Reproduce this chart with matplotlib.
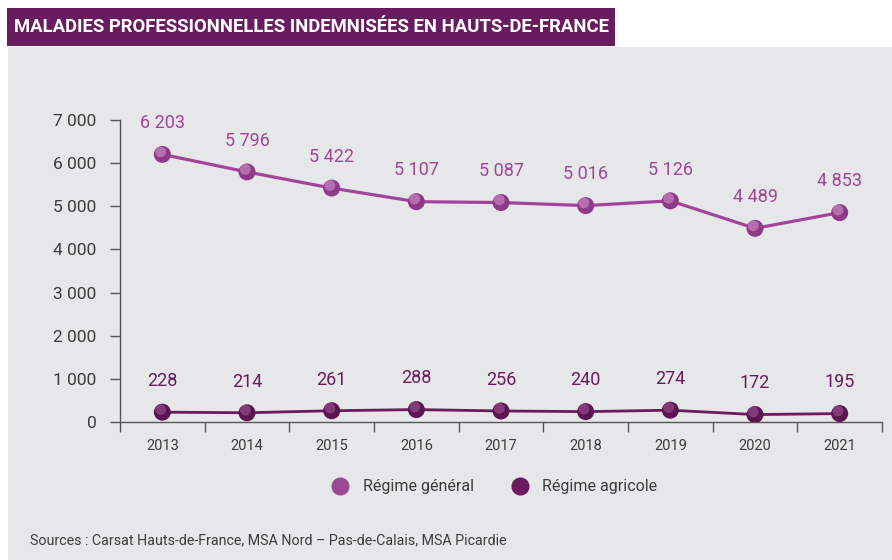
import matplotlib.pyplot as plt
from matplotlib.patches import Rectangle
from matplotlib.lines import Line2D
import numpy as np

years = ['2013', '2014', '2015', '2016', '2017', '2018', '2019', '2020', '2021']
regime_general = [6203, 5796, 5422, 5107, 5087, 5016, 5126, 4489, 4853]
regime_agricole = [228, 214, 261, 288, 256, 240, 274, 172, 195]
y_ticks = [0, 1000, 2000, 3000, 4000, 5000, 6000, 7000]

c_gen = '#a2449a'
c_agr = '#6a1a5e'
c_bg = '#e6e7e9'
c_txt = '#3c3c3c'

plt.rcParams['font.family'] = ['Roboto', 'DejaVu Sans']

W, H = 892, 560
fig = plt.figure(figsize=(W / 100, H / 100), dpi=100)
fig.patch.set_facecolor('white')

# fond gris + bandeau du titre
fig.add_artist(Rectangle((8 / W, 0), 1 - 8 / W, 1 - 47 / H, transform=fig.transFigure,
                         facecolor=c_bg, edgecolor='none', zorder=0))
fig.add_artist(Rectangle((7 / W, 1 - 46 / H), 608 / W, 38 / H, transform=fig.transFigure,
                         facecolor='#691b5f', edgecolor='none', zorder=1))
fig.text(14 / W, 1 - 27 / H, 'MALADIES PROFESSIONNELLES INDEMNISÉES EN HAUTS-DE-FRANCE',
         color='white', fontsize=13.3, fontweight='bold', va='center', ha='left')

ax = fig.add_axes([120 / W, 1 - 422 / H, 762 / W, 302 / H])
ax.set_facecolor('none')
x = np.arange(len(years))


def sphere(ax, xs, ys, base, light):
    # petite bille avec reflet
    ax.scatter(xs, ys, s=150, color=base, zorder=4, edgecolors='none')
    ax.scatter(np.array(xs) - 0.02, np.array(ys) + 60, s=60, color=light, zorder=5,
               edgecolors='none', alpha=0.55)


ax.plot(x, regime_general, color=c_gen, lw=2.3, zorder=3)
sphere(ax, x, regime_general, '#8e3a88', '#d79bd2')
ax.plot(x, regime_agricole, color=c_agr, lw=2.0, zorder=3)
sphere(ax, x, regime_agricole, '#5c1552', '#a45a9a')

for xi, v in zip(x, regime_general):
    ax.annotate(f'{v:,}'.replace(',', ' '), (xi, v), xytext=(0, 16), textcoords='offset points',
                ha='center', va='bottom', fontsize=13, color=c_gen)
for xi, v in zip(x, regime_agricole):
    ax.annotate(f'{v:,}'.replace(',', ' '), (xi, v), xytext=(0, 16), textcoords='offset points',
                ha='center', va='bottom', fontsize=13, color=c_agr)

ax.set_xlim(-0.5, len(years) - 0.5)
ax.set_ylim(0, 7000)
ax.set_yticks(y_ticks)
ax.set_yticklabels([f'{t:,}'.replace(',', ' ') for t in y_ticks], fontsize=12.5, color=c_txt)
ax.set_xticks(x)
ax.set_xticklabels(years, fontsize=10.5, color=c_txt)
ax.set_xticks(np.arange(-0.5, len(years)), minor=True)
ax.tick_params(axis='x', which='major', length=0, pad=12)
ax.tick_params(axis='x', which='minor', length=7, width=1, color='#555555', direction='out')
ax.tick_params(axis='y', length=7, width=1, color='#555555', pad=10)
for s in ['top', 'right']:
    ax.spines[s].set_visible(False)
for s in ['left', 'bottom']:
    ax.spines[s].set_color('#555555')
    ax.spines[s].set_linewidth(1)

handles = [Line2D([], [], marker='o', ls='none', ms=12, color='#9a4a94'),
           Line2D([], [], marker='o', ls='none', ms=12, color='#6a1a5e')]
fig.legend(handles, ['Régime général', 'Régime agricole'], loc='center',
           bbox_to_anchor=(491 / W, 1 - 487 / H), ncol=2, frameon=False,
           fontsize=11.5, labelcolor=c_txt, handletextpad=0.4, columnspacing=1.9)

fig.text(30 / W, 1 - 540 / H, 'Sources : Carsat Hauts-de-France, MSA Nord – Pas-de-Calais, MSA Picardie',
         fontsize=10.3, color=c_txt, va='center', ha='left')

fig.savefig('out.png', dpi=100, facecolor=fig.get_facecolor())
